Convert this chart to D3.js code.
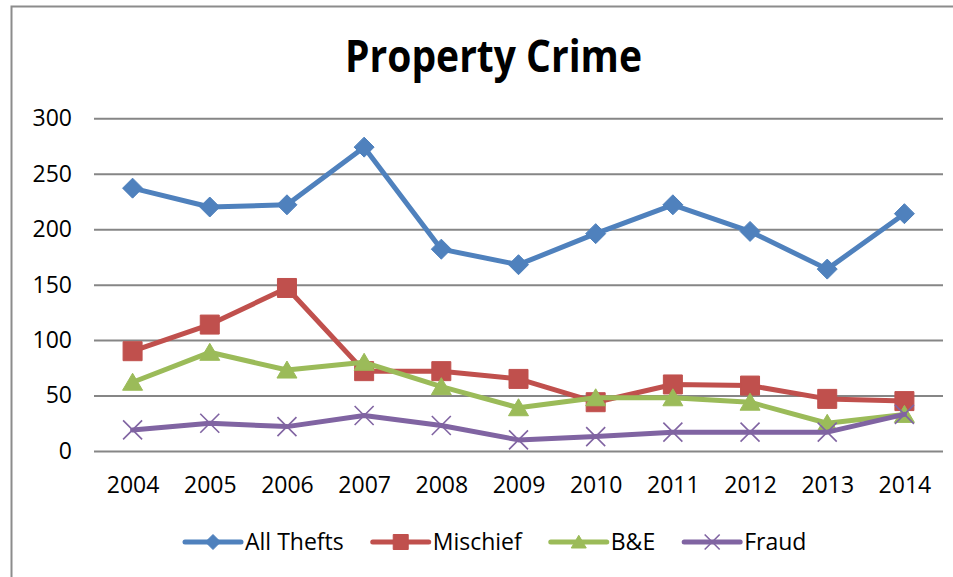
<!DOCTYPE html>
<html>
<head>
<meta charset="utf-8">
<script src="https://cdn.jsdelivr.net/npm/d3@7"></script>
<style>
  html, body { margin: 0; padding: 0; background: #fff; }
  svg { display: block; }
  text { font-family: "Open Sans", "Liberation Sans", sans-serif; fill: #000; }
</style>
</head>
<body>
<svg id="chart" width="953" height="577"></svg>
<script>
// Property crime counts by year
const years = ["2004", "2005", "2006", "2007", "2008", "2009", "2010", "2011", "2012", "2013", "2014"];
const allThefts = [237, 220, 222, 274, 182, 168, 196, 222, 198, 164, 214];
const mischief  = [90, 114, 147, 72, 72, 65, 44, 60, 59, 47, 45];
const breakEnter = [62, 89, 73, 80, 58, 39, 48, 48, 44, 25, 33];
const fraud     = [19, 25, 22, 32, 23, 10, 13, 17, 17, 17, 33];
const seriesNames = ["All Thefts", "Mischief", "B&E", "Fraud"];
const yTicks = [0, 50, 100, 150, 200, 250, 300];

const seriesValues = [allThefts, mischief, breakEnter, fraud];
const colors = ["#4F81BD", "#C0504D", "#9BBB59", "#8064A2"];
const markerKinds = ["diamond", "square", "triangle", "cross"];

const svg = d3.select("#chart");

// outer chart border
svg.append("rect")
  .attr("x", 11.5).attr("y", 6.5)
  .attr("width", 1000).attr("height", 700)
  .attr("fill", "none").attr("stroke", "#8c8c8c").attr("stroke-width", 2);

const plot = { left: 94, right: 943, top: 118.3, bottom: 451 };

const x = d3.scalePoint().domain(years).range([plot.left, plot.right]).padding(0.5);
const y = d3.scaleLinear().domain([0, 300]).range([plot.bottom, plot.top]);

// title
svg.append("text")
  .attr("x", 493.5).attr("y", 72)
  .attr("text-anchor", "middle")
  .attr("font-size", 45).attr("font-weight", "bold")
  .attr("textLength", 297).attr("lengthAdjust", "spacingAndGlyphs")
  .text("Property Crime");

// horizontal gridlines + y labels
const yAxis = d3.axisLeft(y).tickValues(yTicks).tickSize(-(plot.right - plot.left)).tickPadding(22);
const gy = svg.append("g").attr("transform", `translate(${plot.left},0)`).call(yAxis);
gy.select(".domain").remove();
gy.selectAll(".tick line").attr("stroke", "#868686").attr("stroke-width", 2);
gy.selectAll(".tick text")
  .attr("font-size", 23).attr("font-family", "'Open Sans', sans-serif").attr("fill", "#000");

// x labels
const xAxis = d3.axisBottom(x).tickSize(0).tickPadding(26);
const gx = svg.append("g").attr("transform", `translate(0,${plot.bottom})`).call(xAxis);
gx.select(".domain").remove();
gx.selectAll(".tick text")
  .attr("font-size", 23).attr("font-family", "'Open Sans', sans-serif").attr("fill", "#000");

// marker shapes, scaled by r (half width)
function markerPath(kind, r) {
  switch (kind) {
    case "diamond": return `M0,${-r}L${r},0L0,${r}L${-r},0Z`;
    case "square": return `M${-r},${-r}H${r}V${r}H${-r}Z`;
    case "triangle": return `M0,${-r * 0.9}L${r},${r * 0.8}L${-r},${r * 0.8}Z`;
    case "cross": return `M${-r},${-r}L${r},${r}M${-r},${r}L${r},${-r}`;
  }
}

function drawMarker(g, kind, color, r) {
  const p = g.append("path").attr("d", markerPath(kind, r));
  if (kind === "cross") {
    p.attr("fill", "none").attr("stroke", color).attr("stroke-width", 1.6);
  } else {
    p.attr("fill", color).attr("stroke", color).attr("stroke-width", 1);
  }
}

const line = d3.line().x((d, i) => x(years[i])).y(d => y(d));
const sizes = { diamond: 10, square: 9.5, triangle: 10, cross: 9.5 };

seriesValues.forEach((vals, s) => {
  const g = svg.append("g");
  g.append("path")
    .datum(vals)
    .attr("d", line)
    .attr("fill", "none")
    .attr("stroke", colors[s])
    .attr("stroke-width", 5)
    .attr("stroke-linejoin", "round")
    .attr("stroke-linecap", "round");
  vals.forEach((v, i) => {
    const m = g.append("g").attr("transform", `translate(${x(years[i])},${y(v)})`);
    drawMarker(m, markerKinds[s], colors[s], sizes[markerKinds[s]]);
  });
});

// legend
const legend = svg.append("g").attr("transform", "translate(0,542)");
let lx = 185;
seriesNames.forEach((name, s) => {
  const item = legend.append("g").attr("transform", `translate(${lx},0)`);
  item.append("line")
    .attr("x1", 0).attr("x2", 56).attr("y1", 0).attr("y2", 0)
    .attr("stroke", colors[s]).attr("stroke-width", 5).attr("stroke-linecap", "round");
  const m = item.append("g").attr("transform", "translate(28,0)");
  drawMarker(m, markerKinds[s], colors[s], 7.5);
  const t = item.append("text")
    .attr("x", 60).attr("y", 0).attr("dy", "0.35em")
    .attr("font-size", 23)
    .text(name);
  lx += 60 + t.node().getComputedTextLength() + 29;
});
</script>
</body>
</html>
